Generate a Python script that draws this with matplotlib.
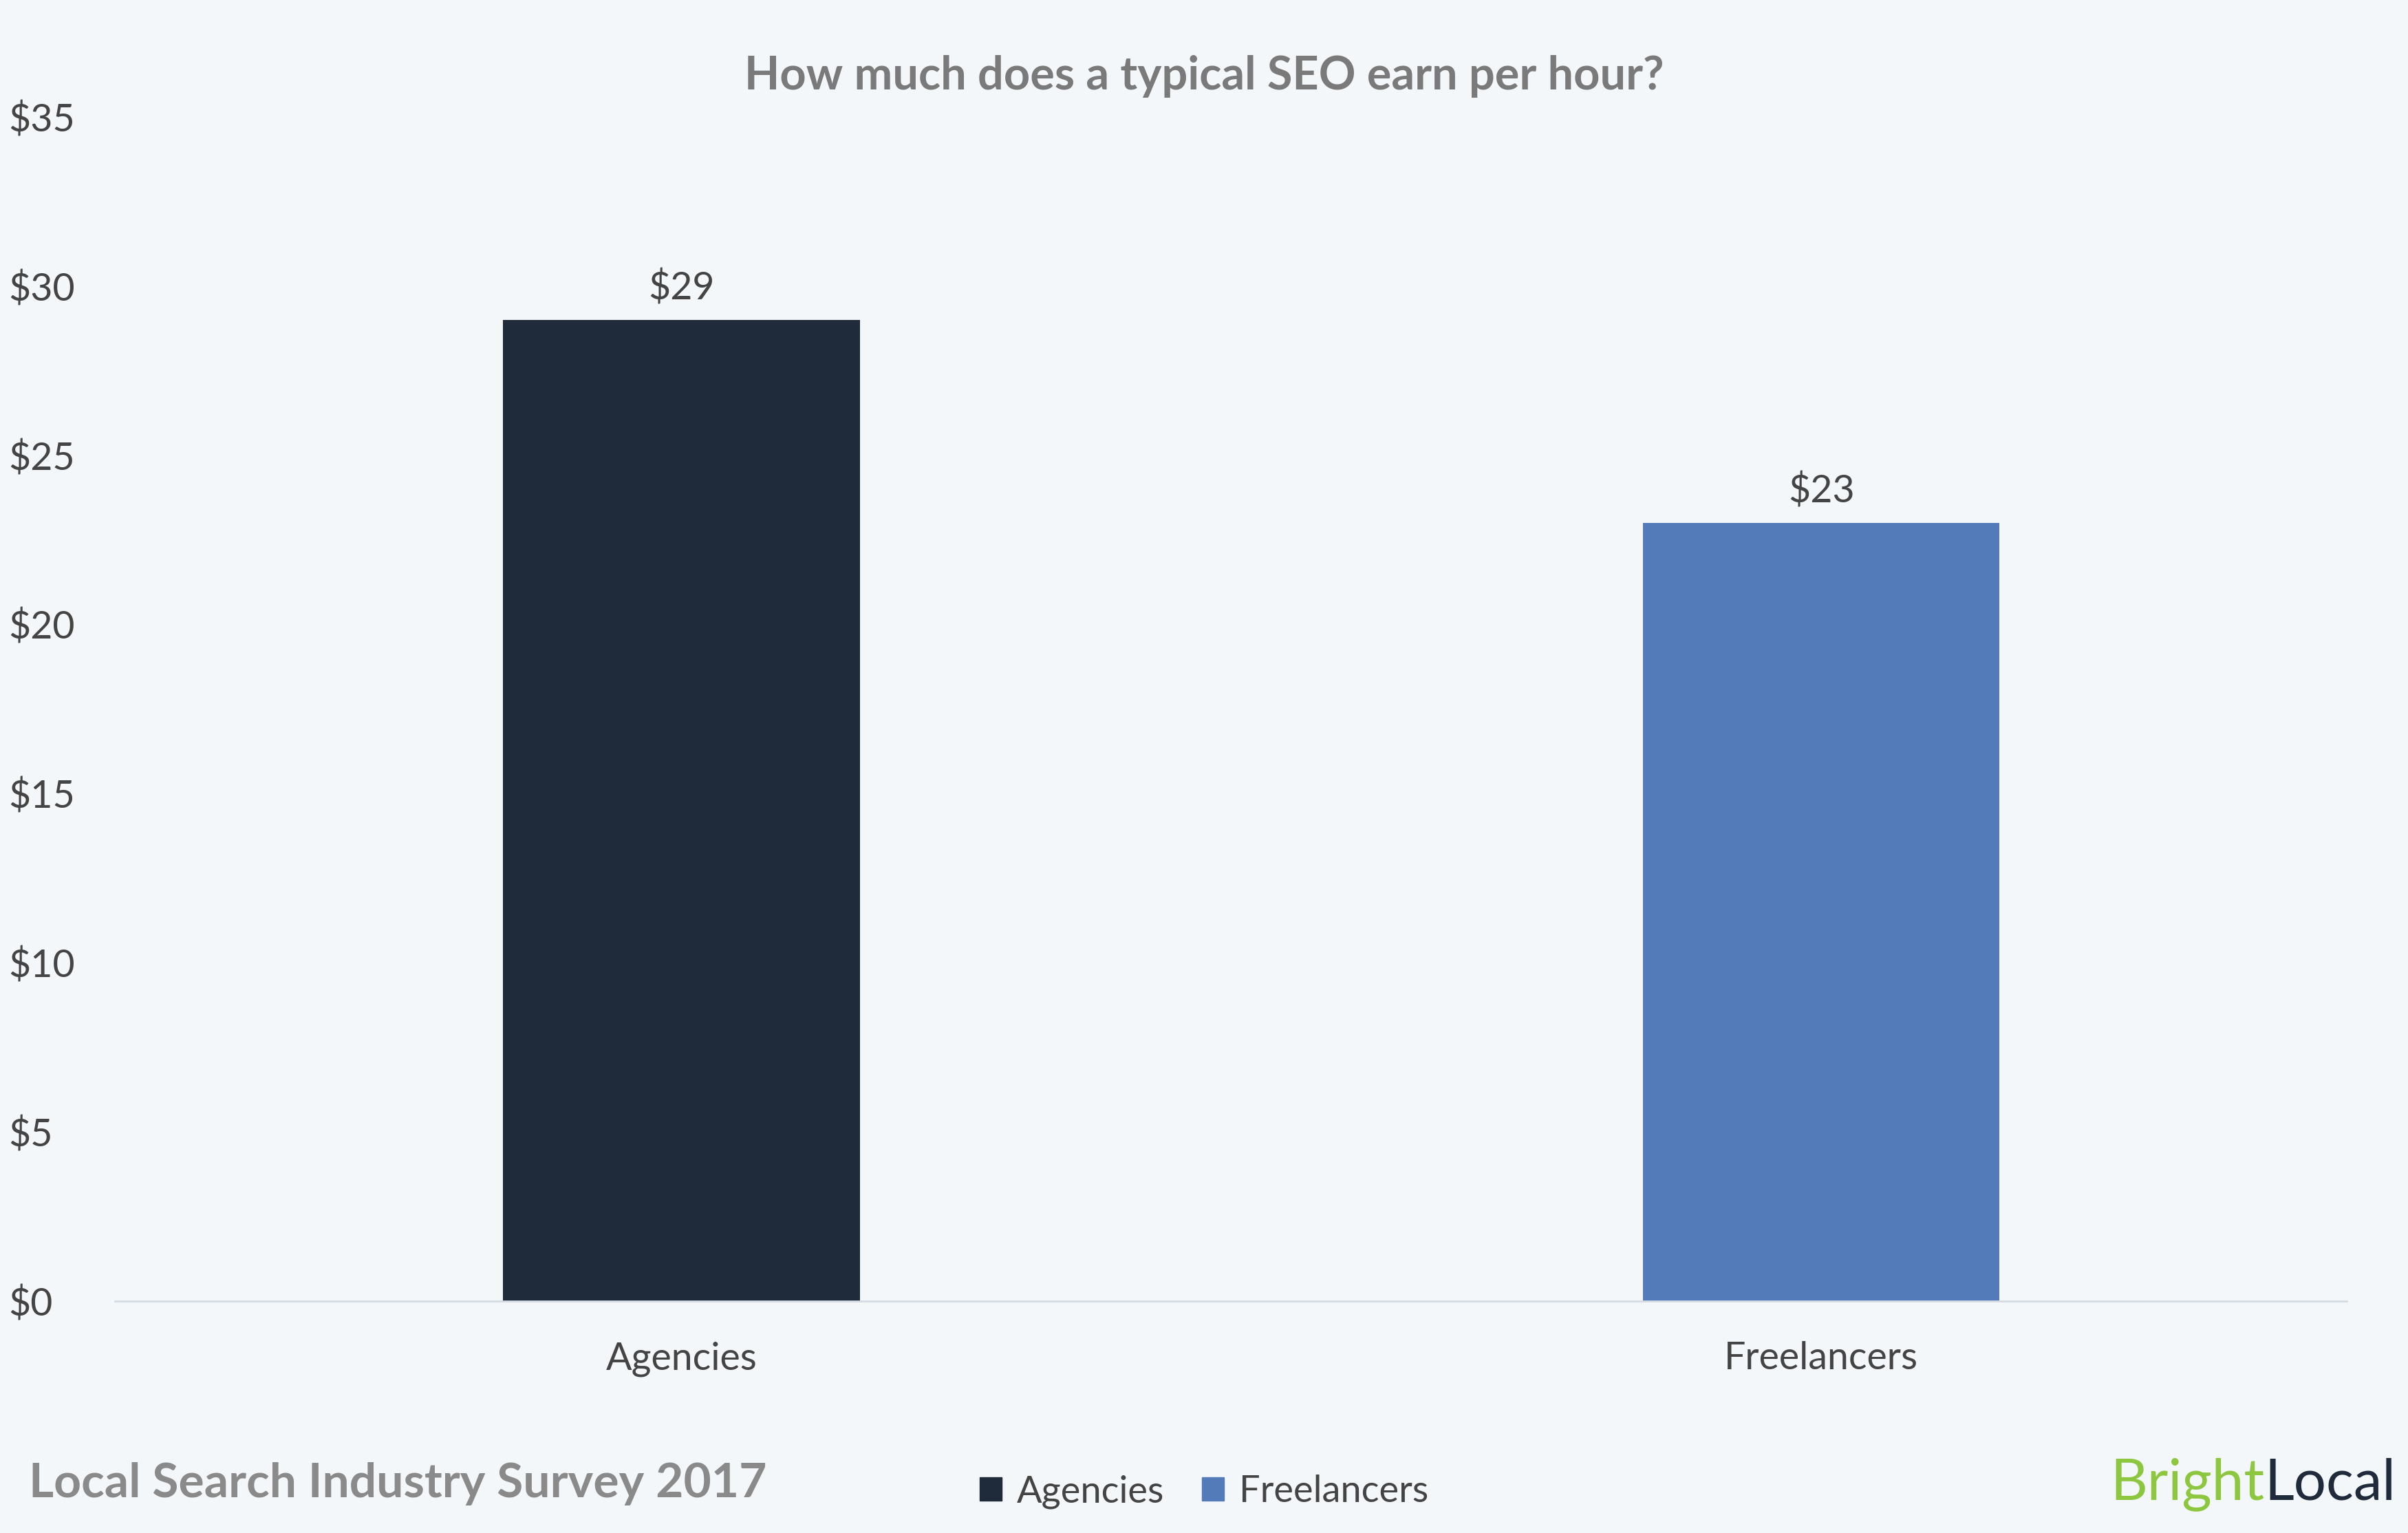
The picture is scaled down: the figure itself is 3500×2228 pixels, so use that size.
import matplotlib.pyplot as plt
from matplotlib.patches import Patch

categories = ['Agencies', 'Freelancers']
values = [29, 23]
colors = ['#1f2a3b', '#537bba']
yticks = [0, 5, 10, 15, 20, 25, 30, 35]

plt.rcParams['font.family'] = ['Lato', 'DejaVu Sans']
bg = '#f4f7fa'

fig = plt.figure(figsize=(35, 22.28), dpi=100, facecolor=bg)
ax = fig.add_axes([0.0478, 0.1513, 0.9267, 0.7725], facecolor=bg)

x = range(len(categories))
bars = ax.bar(x, values, width=0.313, color=colors)
for b, v in zip(bars, values):
    ax.text(b.get_x() + b.get_width() / 2, v + 0.4, f'${v}', ha='center', va='bottom',
            fontsize=40, color='#444444')

ax.set_xlim(-0.497, 1.461)
ax.set_ylim(0, 35)
ax.set_yticks(yticks)
ax.set_yticklabels([f'${t}' for t in yticks], ha='left')
ax.set_xticks(list(x))
ax.set_xticklabels(categories)
ax.tick_params(axis='both', length=0, labelsize=40, labelcolor='#444444')
ax.tick_params(axis='x', pad=42)
ax.tick_params(axis='y', pad=112)
for s in ['top', 'right', 'left']:
    ax.spines[s].set_visible(False)
ax.spines['bottom'].set_color('#d5dbe3')
ax.spines['bottom'].set_linewidth(2)

fig.text(0.5, 0.95, 'How much does a typical SEO earn per hour?', ha='center', va='center',
         fontsize=48, fontweight='bold', color='#7a7a7a')
fig.text(0.012, 0.032, 'Local Search Industry Survey 2017', ha='left', va='center',
         fontsize=50, fontweight='bold', color='#8a8a8a')

handles = [Patch(color=c) for c in colors]
fig.legend(handles, categories, loc='center', bbox_to_anchor=(0.5, 0.027), ncol=2,
           frameon=False, fontsize=39, handlelength=0.6, handleheight=0.6,
           columnspacing=1.0, handletextpad=0.4, labelcolor='#444444')

t2 = fig.text(0.995, 0.032, 'Local', ha='right', va='center', fontsize=60, color='#1f2a3b')
fig.canvas.draw()
bb = t2.get_window_extent().transformed(fig.transFigure.inverted())
fig.text(bb.x0, 0.032, 'Bright', ha='right', va='center', fontsize=60, color='#8dc63f')

fig.savefig('out.png', dpi=100, facecolor=bg)
